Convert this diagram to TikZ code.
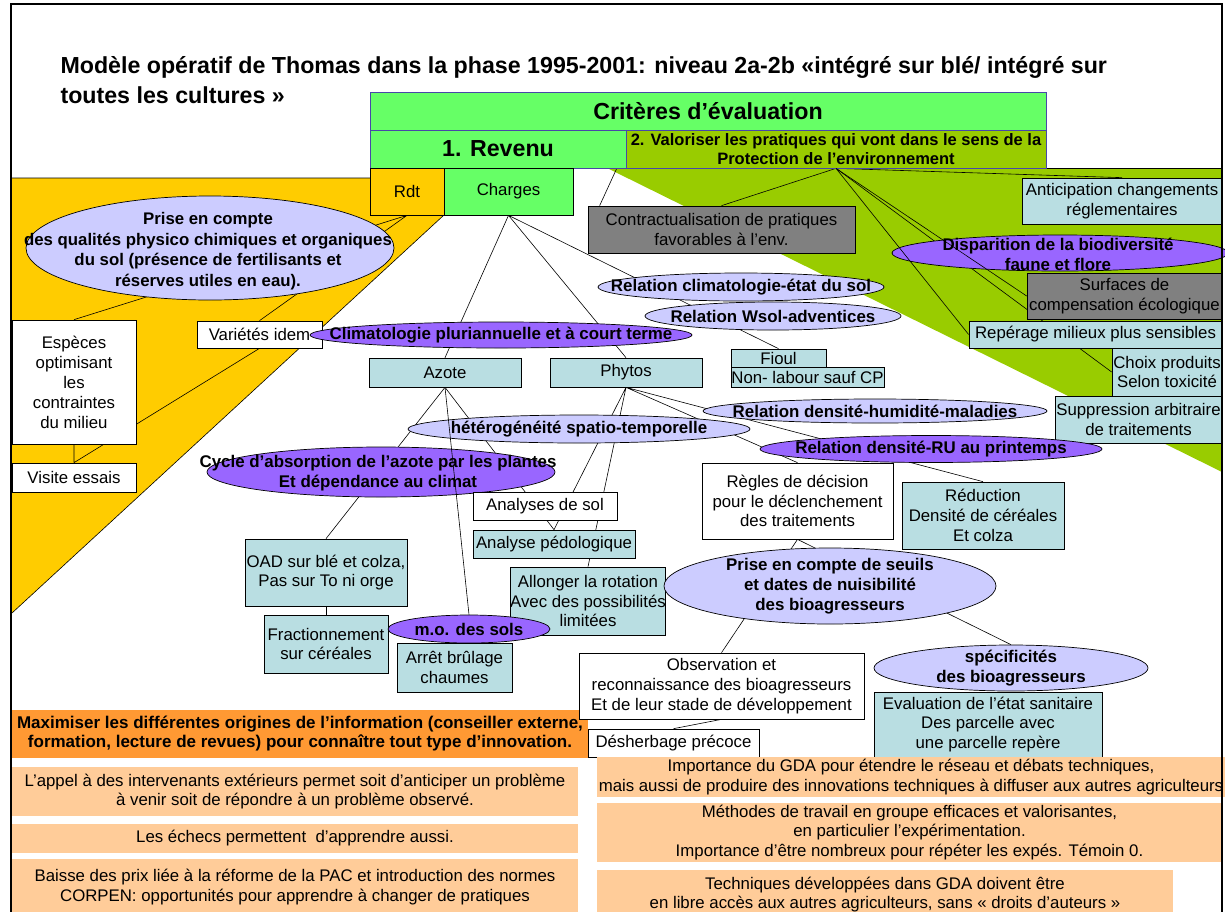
\documentclass[tikz,border=0pt]{standalone}
\usepackage{fontspec}
\setmainfont{Liberation Sans}
\usetikzlibrary{shapes.geometric}
\pgfdeclarelayer{bg}
\pgfsetlayers{bg,main}
\definecolor{critgreen}{HTML}{66FF66}
\definecolor{envgreen}{HTML}{99CC00}
\definecolor{jaune}{HTML}{FFCC00}
\definecolor{lavande}{HTML}{CCCCFF}
\definecolor{pourpre}{HTML}{9966FF}
\definecolor{cyanpale}{HTML}{B9DEE2}
\definecolor{gris}{HTML}{808080}
\definecolor{orangevif}{HTML}{FF9933}
\definecolor{peche}{HTML}{FFCC99}
\definecolor{bordbleu}{HTML}{4848A8}
\begin{document}
\begin{tikzpicture}[x=1pt, y=-1pt,
	txt/.style={align=center, inner sep=0, font=\fontsize{16.8}{19.8}\selectfont},
	btxt/.style={align=center, inner sep=0, font=\bfseries\fontsize{16.9}{19.8}\selectfont},
	box/.style={txt, draw, line width=0.7pt, fill=#1}, box/.default=white,
	crit/.style={draw=bordbleu, line width=0.7pt, fill=#1, inner sep=0, align=center,
		font=\bfseries\fontsize{23.2}{26}\selectfont},
	ell/.style={ellipse, draw, line width=0.7pt, fill=#1, inner sep=0}, ell/.default=lavande,
	band/.style={txt, fill=peche},
	link/.style={line width=0.6pt} ]
	\useasboundingbox (0,0) rectangle (1225,911);
	\node[anchor=west, align=left, font=\bfseries\fontsize{23.2}{30}\selectfont] (titre) at (57,80)
		{Modèle opératif de Thomas dans la phase 1995-2001: niveau 2a-2b «intégré sur blé/ intégré sur\\toutes les cultures »};
	\node[crit=critgreen, minimum width=676, minimum height=38] (crit) at (708,111) {Critères d’évaluation};
	\node[crit=critgreen, minimum width=256, minimum height=38] (rev) at (498,149) {1. Revenu};
	\node[crit=envgreen, minimum width=420, minimum height=38, font=\bfseries\fontsize{16.5}{19}\selectfont] (val) at (836,149)
		{2. Valoriser les pratiques qui vont dans le sens de la\\Protection de l’environnement};
	\node[box=jaune, minimum width=74, minimum height=47] (rdt) at (407,191.5) {Rdt};
	\node[box=critgreen, minimum width=129, minimum height=47] (charges) at (508.5,191.5) {Charges};
	\node[ell, minimum width=368, minimum height=104] (qual) at (210,248) {};
	\node[btxt, font=\bfseries\fontsize{16.8}{20.5}\selectfont] (qualt) at (208,251)
		{Prise en compte\\des qualités physico chimiques et organiques\\du sol (présence de fertilisants et\\réserves utiles en eau).};
	\node[box, minimum width=124, minimum height=124, font=\fontsize{16.8}{20}\selectfont] (esp) at (74,382)
		{Espèces\\optimisant\\les\\contraintes\\du milieu};
	\node[box, minimum width=124, minimum height=29] (vis) at (74,477.5) {Visite essais};
	\node[box, minimum width=125, minimum height=27] (var) at (259.5,334.5) {Variétés idem};
	\node[ell=pourpre, minimum width=382, minimum height=26] (clima) at (501,335) {};
	\node[btxt] (climat) at (clima) {Climatologie pluriannuelle et à court terme};
	\node[ell, minimum width=286, minimum height=28] (etat) at (741,287) {};
	\node[btxt] (etatt) at (etat) {Relation climatologie-état du sol};
	\node[ell, minimum width=256, minimum height=28] (wsol) at (773,316) {};
	\node[btxt] (wsolt) at (wsol) {Relation Wsol-adventices};
	\node[box=gris, minimum width=267, minimum height=47] (contract) at (721.5,229.5)
		{Contractualisation de pratiques\\favorables à l’env.};
	\node[box=cyanpale, minimum width=200, minimum height=46] (antic) at (1122,201)
		{Anticipation changements\\réglementaires};
	\node[ell=pourpre, minimum width=336, minimum height=36] (biodiv) at (1060,253) {};
	\node[btxt] (biodivt) at (1058,254.5) {Disparition de la biodiversité\\faune et flore};
	\node[box=gris, minimum width=195, minimum height=46] (surf) at (1124.5,296)
		{Surfaces de\\compensation écologique};
	\node[box=cyanpale, minimum width=253, minimum height=27] (rep) at (1095.5,334.5) {Repérage milieux plus sensibles};
	\node[box=cyanpale, minimum width=110, minimum height=48] (choix) at (1167,372) {Choix produits\\Selon toxicité};
	\node[box=cyanpale, minimum width=167, minimum height=47] (supp) at (1138.5,419.5)
		{Suppression arbitraire\\de traitements};
	\node[box=cyanpale, minimum width=95, minimum height=18] (fioul) at (778.5,358) {Fioul};
	\node[box=cyanpale, minimum width=153, minimum height=20] (labour) at (807.5,377) {Non- labour sauf CP};
	\node[box=cyanpale, minimum width=152, minimum height=29] (azote) at (445,372.5) {Azote};
	\node[box=cyanpale, minimum width=152, minimum height=29] (phytos) at (626,372.5) {Phytos};
	\node[ell, minimum width=344, minimum height=24] (humid) at (875,411) {};
	\node[btxt] (humidt) at (humid) {Relation densité-humidité-maladies};
	\node[ell, minimum width=342, minimum height=28] (hetero) at (579,429) {};
	\node[btxt] (heterot) at (hetero) {hétérogénéité spatio-temporelle};
	\node[ell=pourpre, minimum width=342, minimum height=27] (ru) at (931,449) {};
	\node[btxt] (rut) at (ru) {Relation densité-RU au printemps};
	\node[ell=pourpre, minimum width=348, minimum height=50] (cycle) at (381,472) {};
	\node[btxt] (cyclet) at (378,473) {Cycle d’absorption de l’azote par les plantes\\Et dépendance au climat};
	\node[box, minimum width=191, minimum height=76] (regles) at (797.5,501)
		{Règles de décision\\pour le déclenchement\\des traitements};
	\node[box=cyanpale, minimum width=162, minimum height=67] (reduc) at (983,515.5)
		{Réduction\\Densité de céréales\\Et colza};
	\node[box, minimum width=144, minimum height=28] (sol) at (545,506) {Analyses de sol};
	\node[box=cyanpale, minimum width=162, minimum height=28] (pedo) at (554,544) {Analyse pédologique};
	\node[box=cyanpale, minimum width=162, minimum height=67] (oad) at (326,572.5)
		{OAD sur blé et colza,\\Pas sur To ni orge};
	\node[box=cyanpale, minimum width=152, minimum height=68] (rota) at (588,601)
		{Allonger la rotation\\Avec des possibilités\\limitées};
	\node[ell, minimum width=332, minimum height=76] (seuils) at (830,586) {};
	\node[btxt] (seuilst) at (seuils) {Prise en compte de seuils\\et dates de nuisibilité\\des bioagresseurs};
	\node[box=cyanpale, minimum width=124, minimum height=58] (fract) at (326,644) {Fractionnement\\sur céréales};
	\node[ell=pourpre, minimum width=162, minimum height=28] (mo) at (469,629) {};
	\node[btxt] (mot) at (mo) {m.o. des sols};
	\node[box=cyanpale, minimum width=115, minimum height=49] (brul) at (454.5,667.5) {Arrêt brûlage\\chaumes};
	\node[box=orangevif, minimum width=576, minimum height=48, draw=none, font=\bfseries\fontsize{17}{19}\selectfont] (maxi) at (300,734)
		{Maximiser les différentes origines de l’information (conseiller externe,\\formation, lecture de revues) pour connaître tout type d’innovation.};
	\node[box, minimum width=285, minimum height=66] (obs) at (721.5,686)
		{Observation et\\reconnaissance des bioagresseurs\\Et de leur stade de développement};
	\node[ell, minimum width=274, minimum height=46] (spec) at (1011,668) {};
	\node[btxt] (spect) at (spec) {spécificités\\des bioagresseurs};
	\node[box=cyanpale, minimum width=228, minimum height=65] (evalu) at (988,724.5)
		{Evaluation de l’état sanitaire\\Des parcelle avec\\une parcelle repère};
	\node[box, minimum width=171, minimum height=28] (desh) at (673.5,743) {Désherbage précoce};
	\node[band, minimum width=566, minimum height=49] (appel) at (295,791.5)
		{L’appel à des intervenants extérieurs permet soit d’anticiper un problème\\à venir soit de répondre à un problème observé.};
	\node[band, minimum width=566, minimum height=29] (echecs) at (295,838.5) {Les échecs permettent\ \ d’apprendre aussi.};
	\node[band, minimum width=566, minimum height=56] (baisse) at (295,887)
		{Baisse des prix liée à la réforme de la PAC et introduction des normes\\CORPEN: opportunités pour apprendre à changer de pratiques};
	\node[band, minimum width=628, minimum height=40] (gda) at (911,777)
		{Importance du GDA pour étendre le réseau et débats techniques,\\mais aussi de produire des innovations techniques à diffuser aux autres agriculteurs};
	\node[band, minimum width=625, minimum height=59] (meth) at (909.5,832.5)
		{Méthodes de travail en groupe efficaces et valorisantes,\\en particulier l’expérimentation.\\Importance d’être nombreux pour répéter les expés. Témoin 0.};
	\node[band, minimum width=576, minimum height=50] (techn) at (885,894.5)
		{Techniques développées dans GDA doivent être\\en libre accès aux autres agriculteurs, sans « droits d’auteurs »};
	\begin{pgfonlayer}{bg}
		\fill[jaune] (12,178) -- (444,178) -- (444,215) -- (12,613) -- cycle;
		\draw[link] (12,178) -- (370,178) (444,215) -- (12,613);
		\fill[envgreen] (607,168) -- (1222,168) -- (1222,472) -- cycle;
		\draw[link] (626,168) -- (1222,168);
		\draw[link] (rdt.south) -- (esp.north) (rdt.south) -- (var.north);
		\draw[link] (var.south) -- (vis.north) (esp.south) -- (vis.north);
		\draw[link] (charges.south) -- (azote.north) (charges.south) -- (phytos.north)
			(charges.south) -- (fioul.north);
		\draw[link] (val.west) -- ([xshift=12pt]contract.north west);
		\draw[link] (val.south) -- (contract.north) (val.south) -- (antic.north)
			(val.south) -- (choix.west);
		\draw[link] (azote.south) -- (oad.north) (azote.south) -- (pedo.north);
		\draw[link] (phytos.south) -- (pedo.north) (phytos.south) -- (rota.north)
			(phytos.south) -- (reduc.north) (phytos.south) -- (regles.north);
		\draw[link] (oad.south) -- (fract.north);
		\draw[link] (regles.south) -- (obs.north) (regles.south) -- (spec.north);
		\draw[link] (obs.south) -- (desh.north);
	\end{pgfonlayer}
	\draw[link] (azote.south) -- (mo.north);
	\draw[link] (val.south) -- (surf.west) (val.south) -- (rep.west);
	\draw[line width=2.5pt] (11,915) |- (1222,4) -- (1222,915);
\end{tikzpicture}
\end{document}
